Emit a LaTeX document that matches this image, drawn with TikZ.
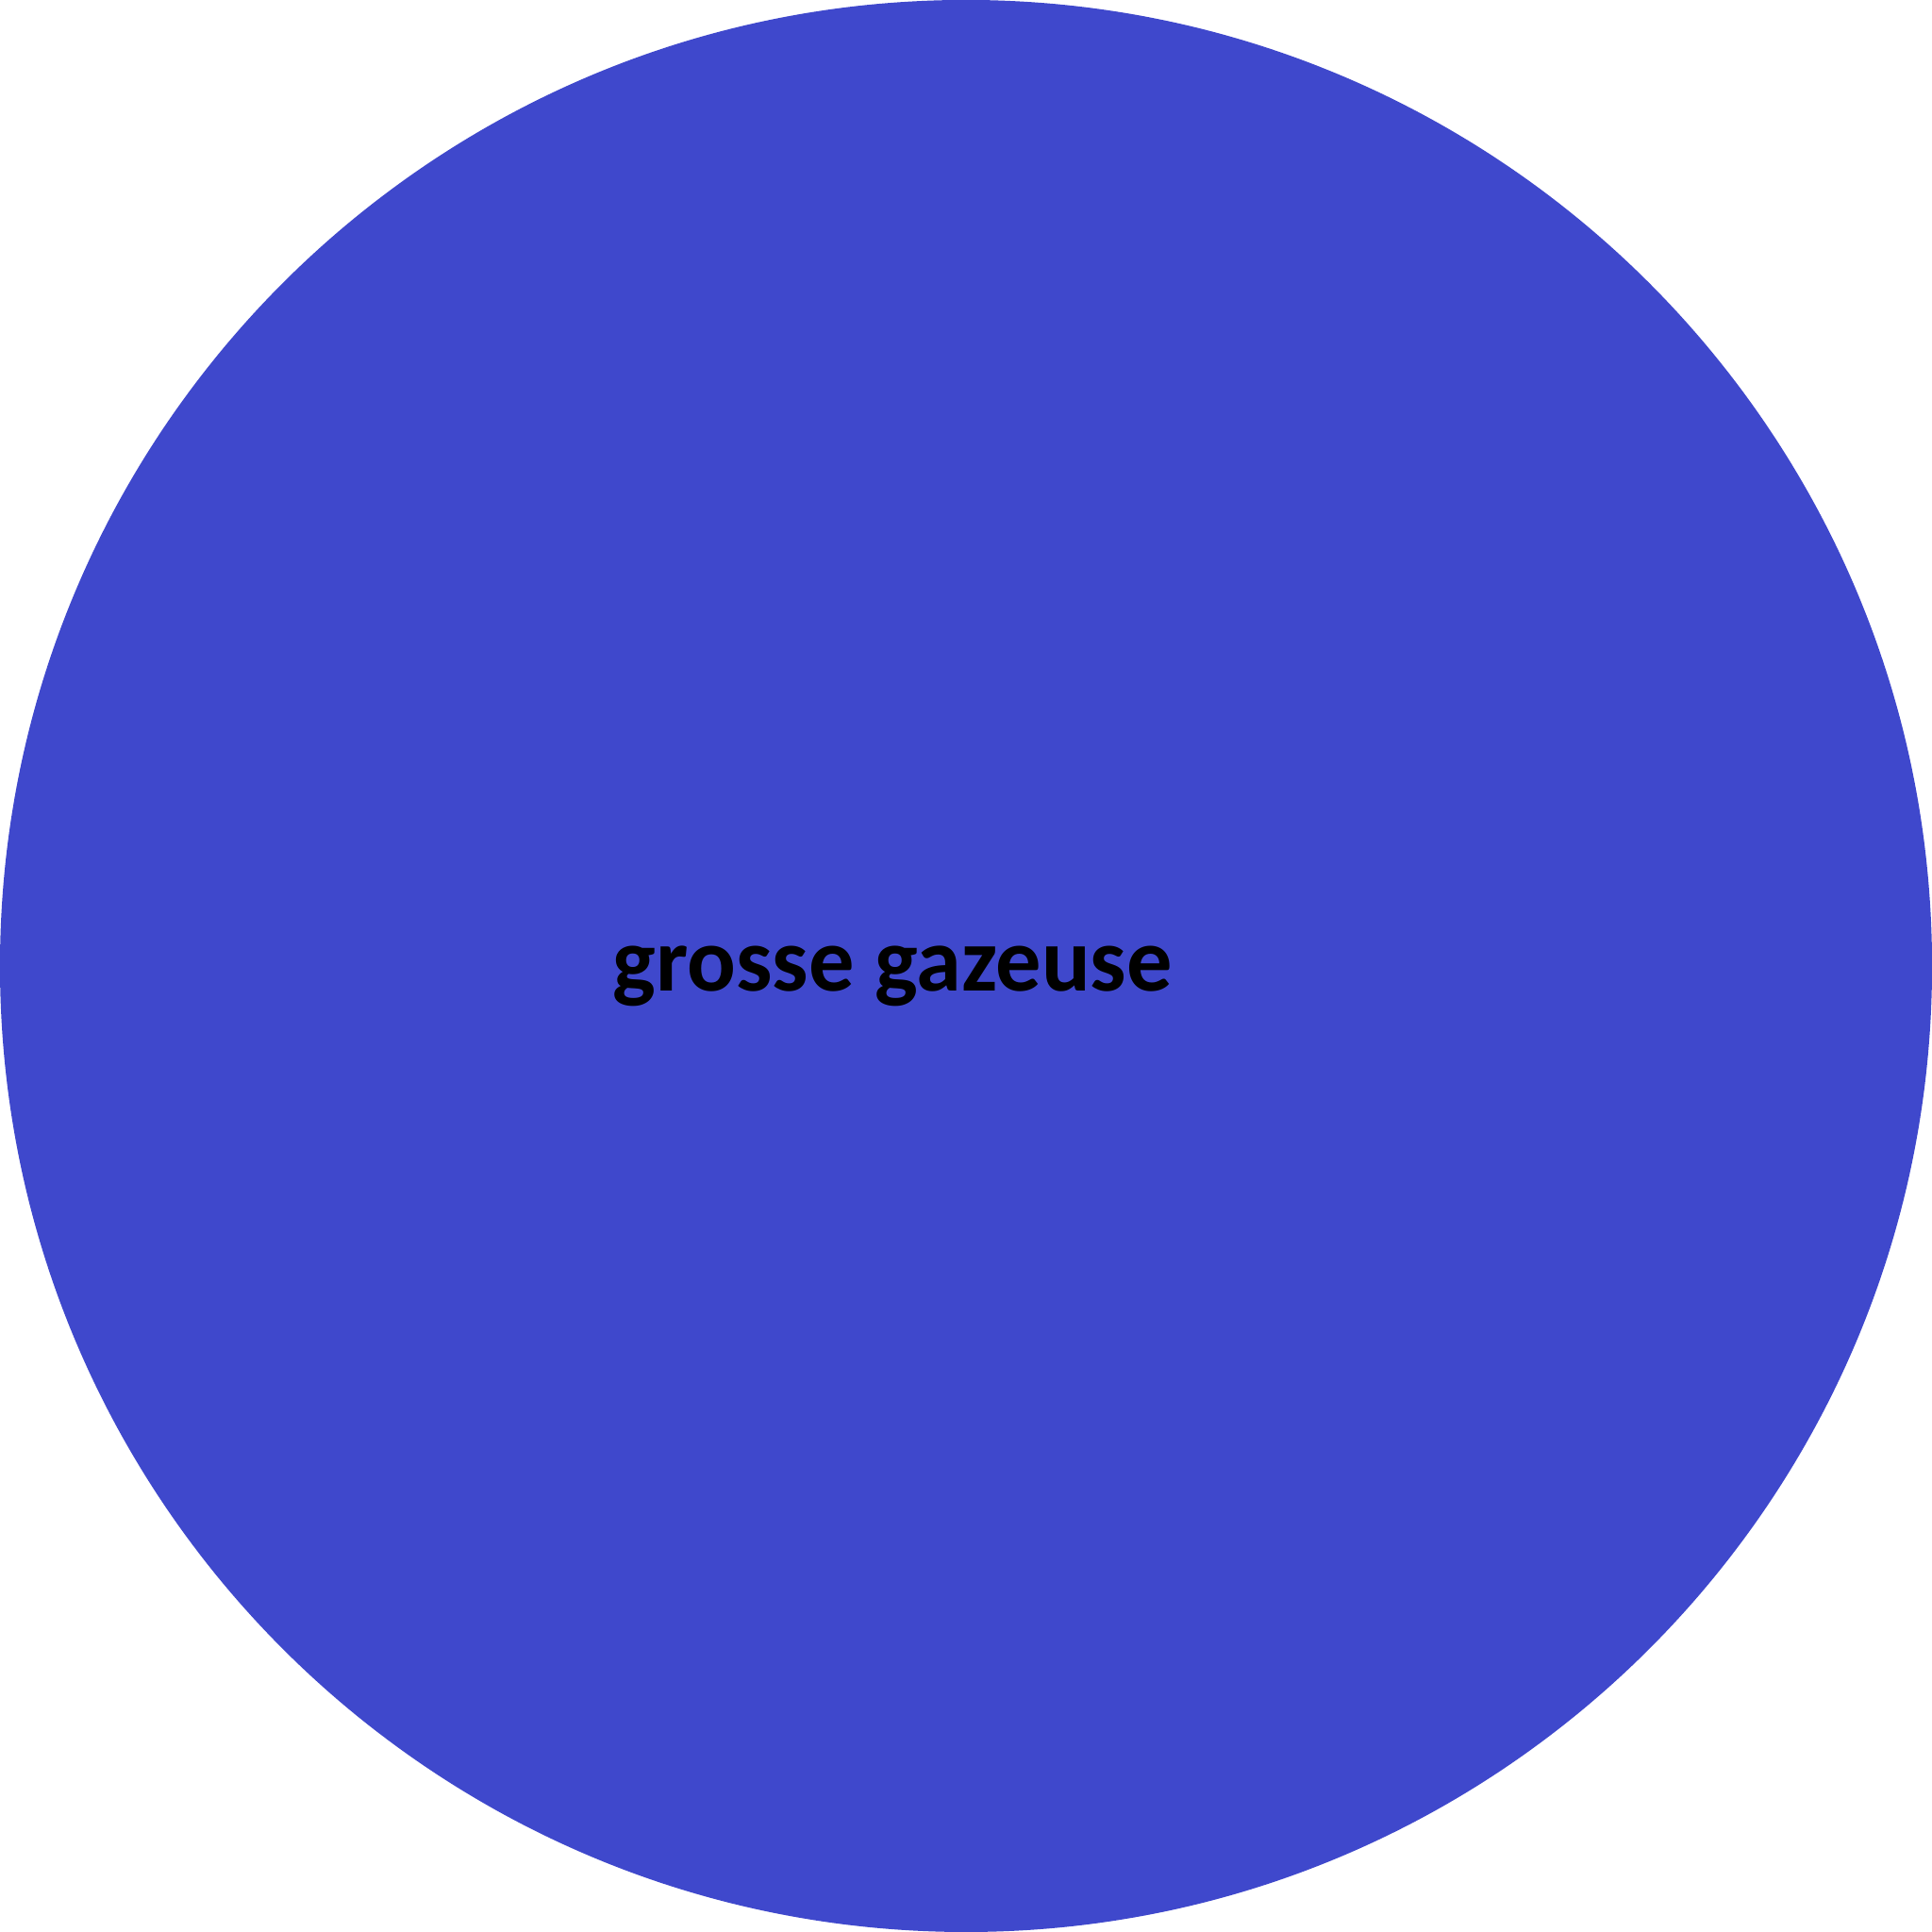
\documentclass[tikz,border=0pt]{standalone}
\usepackage{fontspec}
\setmainfont{Carlito}
\definecolor{planetblue}{HTML}{3F48CC}
\begin{document}
\begin{tikzpicture}[x=1cm,y=1cm]
  \useasboundingbox (0,0) rectangle (10,10);
  \fill[planetblue] (5,5) circle (5);
  \node[anchor=base,inner sep=0pt,font=\bfseries\fontsize{13.4}{16}\selectfont] (label) at (4.62,4.87) {grosse gazeuse};
\end{tikzpicture}
\end{document}
